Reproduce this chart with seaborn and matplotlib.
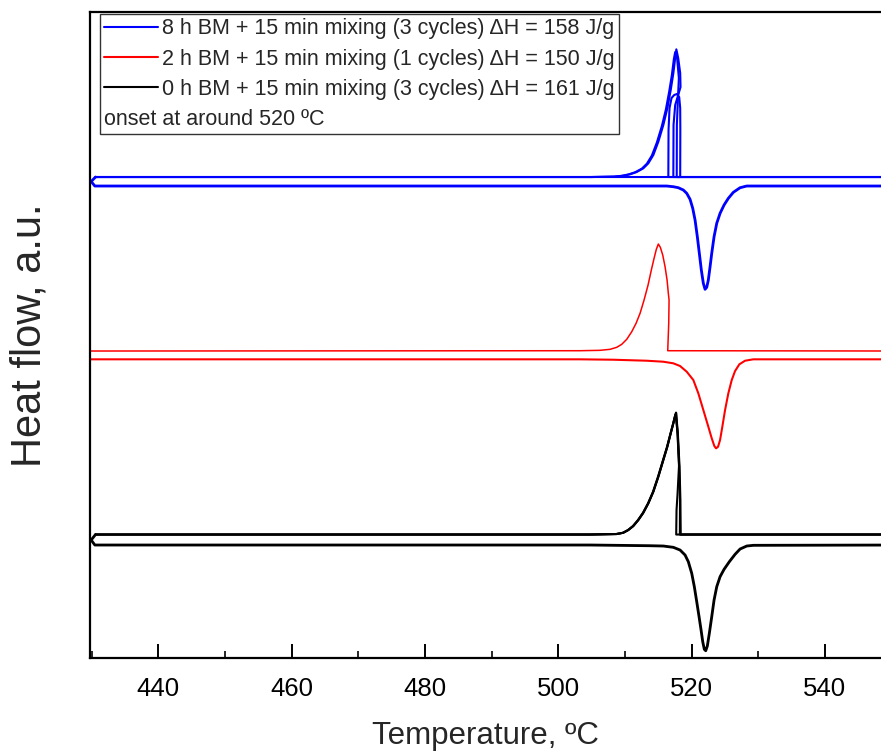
import matplotlib
matplotlib.use("Agg")
import matplotlib.pyplot as plt
import pandas as pd
import seaborn as sns
from matplotlib.lines import Line2D
from matplotlib.ticker import MultipleLocator

sns.set_theme(style="white")
plt.rcParams["font.family"] = ["Liberation Sans", "DejaVu Sans"]

# ---------------------------------------------------------------------------
# DSC traces: temperature (ºC) and heat flow (a.u., relative to baseline)
# ---------------------------------------------------------------------------
labels = [
    "8 h BM + 15 min mixing (3 cycles) \u0394H = 158 J/g",
    "2 h BM + 15 min mixing (1 cycles) \u0394H = 150 J/g",
    "0 h BM + 15 min mixing (3 cycles) \u0394H = 161 J/g",
]
note = "onset at around 520 \u00baC"
colors = ["#0000ff", "#ff0000", "#000000"]

# baselines of the cooling (upper) and heating (lower) traces of each sample
base_cool = [48.1, 30.7, 12.35]
base_heat = [47.2, 29.87, 11.3]

# --- 8 h BM ---------------------------------------------------------------
# solidification: recalescence rise followed by the exothermic tail
bm8_riseA_T = [552, 517.27, 517.3, 517.55, 518.0, 518.35, 518.3, 518.0]
bm8_riseA_hf = [0, 0, 5.2, 7.2, 8.2, 9.0, 10.4, 11.9]
bm8_tailA_T = [517.72, 517.57, 517.27, 516.88, 516.37, 515.77, 515.02, 514.27,
               513.52, 512.77, 511.78, 510.78, 509.77, 508.5, 505, 430.6]
bm8_tailA_hf = [12.77, 12.03, 10.37, 8.7, 6.87, 5.2, 3.53, 2.2, 1.37, 0.87,
                0.5, 0.27, 0.13, 0.04, 0, 0]
bm8_riseB_T = [552, 517.78, 517.8, 517.95, 518.1, 517.85]
bm8_riseB_hf = [0, 0, 5.2, 7.7, 9.9, 11.8]
bm8_tailB_T = [517.55, 517.35, 517.05, 516.65, 516.15, 515.55, 514.8, 514.05,
               513.3, 512.55, 511.55, 510.55, 509.55, 508.3, 505, 430.6]
bm8_tailB_hf = [12.5, 11.8, 10.2, 8.55, 6.75, 5.1, 3.45, 2.15, 1.33, 0.84,
                0.48, 0.26, 0.12, 0.04, 0, 0]
bm8_capC_T = [552, 516.52, 516.55, 516.7, 517.0, 517.4, 517.8, 518.15, 518.3,
              518.32, 518.3, 430.6]
bm8_capC_hf = [0, 0, 4.7, 6.9, 7.9, 8.2, 8.3, 8.0, 6.9, 4.7, 0, 0]
bm8_cool_T = [bm8_riseA_T + bm8_tailA_T, bm8_riseB_T + bm8_tailB_T, bm8_capC_T]
bm8_cool_hf = [bm8_riseA_hf + bm8_tailA_hf, bm8_riseB_hf + bm8_tailB_hf,
               bm8_capC_hf]
# melting (the first three points close the loop at the start of the run)
bm8_heat_T = [430.6, 429.95, 430.5, 505, 516.28, 517.27, 518.02, 518.77,
              519.28, 519.78, 520.18, 520.53, 520.87, 521.17, 521.47, 521.77,
              522.03, 522.28, 522.52, 522.78, 523.03, 523.38, 523.78, 524.28,
              524.88, 525.52, 526.27, 527.28, 528.28, 552]
bm8_heat_hf = [0.9, 0.45, 0, 0, 0, -0.07, -0.17, -0.4, -0.73, -1.33, -2.23,
               -3.4, -5.07, -6.73, -8.4, -9.73, -10.33, -10.13, -9.4, -8.07,
               -6.73, -5.07, -3.73, -2.73, -1.9, -1.23, -0.63, -0.17, 0, 0]

# --- 2 h BM ---------------------------------------------------------------
bm2_cool_T = [[552, 516.43, 516.58, 516.63, 516.52, 516.33, 516.03, 515.68,
               515.32, 515.02, 514.72, 514.38, 513.97, 513.48, 512.88, 512.28,
               511.68, 511.03, 510.28, 509.53, 508.78, 507.78, 506.28, 503.28,
               429.5]]
bm2_cool_hf = [[0, 0.03, 2.77, 5.1, 5.77, 7.1, 8.43, 9.6, 10.37, 10.7, 10.17,
                9.27, 8.1, 6.6, 5.1, 3.77, 2.77, 1.93, 1.17, 0.67, 0.37, 0.17,
                0.07, 0.03, 0]]
bm2_heat_T = [429.5, 503.28, 508.27, 513.28, 515.77, 517.27, 518.28, 519.28,
              520.27, 521.02, 521.77, 522.52, 523.03, 523.42, 523.68, 523.98,
              524.28, 524.62, 525.03, 525.52, 526.03, 526.53, 527.17, 528.03,
              529.27, 552]
bm2_heat_hf = [0, 0, -0.04, -0.14, -0.24, -0.4, -0.67, -1.24, -2.07, -3.4,
               -5.07, -6.74, -7.9, -8.67, -8.9, -8.74, -8.07, -6.74, -5.07,
               -3.4, -2.07, -1.17, -0.5, -0.14, 0, 0]

# --- 0 h BM ---------------------------------------------------------------
bm0_rise1_T = [552, 518.38, 518.33, 518.2, 517.95]
bm0_rise1_hf = [0, 0, 3.45, 6.78, 10.12]
bm0_rise2_T = [552, 517.7, 517.75, 517.9, 518.12, 517.9]
bm0_rise2_hf = [0, 0, 2.45, 4.05, 6.85, 10.05]
bm0_rise3_T = [552, 518.25, 518.27, 518.15, 517.92]
bm0_rise3_hf = [0, 0, 3.45, 6.75, 10.05]
bm0_tail1_T = [517.68, 517.57, 517.27, 516.88, 516.37, 515.77, 515.02, 514.27,
               513.52, 512.77, 512.02, 511.27, 510.52, 509.77, 508.78, 504.78,
               430.6]
bm0_tail1_hf = [12.18, 11.95, 11.12, 10.12, 8.78, 7.45, 5.78, 4.28, 3.12, 2.18,
                1.45, 0.85, 0.45, 0.18, 0.05, 0, 0]
bm0_tail2_T = [517.62, 517.5, 517.2, 516.8, 516.29, 515.69, 514.94, 514.19,
               513.44, 512.69, 511.94, 511.19, 510.44, 509.69, 508.7, 504.7,
               430.6]
bm0_tail2_hf = [12.0, 11.8, 11.0, 10.0, 8.7, 7.38, 5.72, 4.23, 3.08, 2.15,
                1.43, 0.84, 0.44, 0.17, 0.05, 0, 0]
bm0_cool_T = [bm0_rise1_T + bm0_tail1_T, bm0_rise2_T + bm0_tail1_T,
              bm0_rise3_T + bm0_tail2_T]
bm0_cool_hf = [bm0_rise1_hf + bm0_tail1_hf, bm0_rise2_hf + bm0_tail1_hf,
               bm0_rise3_hf + bm0_tail2_hf]
bm0_heat_T = [430.6, 429.95, 430.5, 504.78, 513.78, 515.77, 517.27, 518.28,
              519.03, 519.52, 520.03, 520.42, 520.78, 521.13, 521.43, 521.68,
              521.92, 522.13, 522.37, 522.67, 523.03, 523.38, 523.78, 524.28,
              524.88, 525.67, 526.53, 527.28, 528.28, 529.27, 552]
bm0_heat_hf = [1.05, 0.5, 0, 0, -0.07, -0.1, -0.23, -0.5, -1.0, -1.67, -2.83,
               -4.17, -5.67, -7.17, -8.5, -9.67, -10.43, -10.57, -10.1, -8.83,
               -7.17, -5.5, -4.17, -3.17, -2.43, -1.67, -0.93, -0.4, -0.1,
               -0.03, 0]

samples = [
    (bm8_cool_T, bm8_cool_hf, bm8_heat_T, bm8_heat_hf),
    (bm2_cool_T, bm2_cool_hf, bm2_heat_T, bm2_heat_hf),
    (bm0_cool_T, bm0_cool_hf, bm0_heat_T, bm0_heat_hf),
]
widths = [1.5, 1.1, 1.5]

# ---------------------------------------------------------------------------
fig = plt.figure(figsize=(8.81, 7.51), dpi=100)
ax = fig.add_axes([0.1016, 0.1238, 0.9255, 0.8602])

for i, (cT, cH, hT, hH) in enumerate(samples):
    for T, hf in zip(cT, cH):
        df = pd.DataFrame({"T": T, "hf": [base_cool[i] + v for v in hf]})
        sns.lineplot(data=df, x="T", y="hf", sort=False, estimator=None,
                     color=colors[i], lw=widths[i], ax=ax)
    df = pd.DataFrame({"T": hT, "hf": [base_heat[i] + v for v in hH]})
    sns.lineplot(data=df, x="T", y="hf", sort=False, estimator=None,
                 color=colors[i], lw=widths[i] * 1.35, ax=ax)

ax.set_xlim(429.7, 552)
ax.set_ylim(0, 64.6)
ax.set_yticks([])
ax.xaxis.set_major_locator(MultipleLocator(20))
ax.xaxis.set_minor_locator(MultipleLocator(10))
ax.tick_params(axis="x", which="major", direction="in", length=10, width=1.4,
               labelsize=18.5, pad=14, colors="black", bottom=True)
ax.tick_params(axis="x", which="minor", direction="in", length=5, width=1.4,
               bottom=True)
for sp in ax.spines.values():
    sp.set_color("black")
    sp.set_linewidth(1.6)

ax.set_xlabel("Temperature, \u00baC", fontsize=22.5)
ax.xaxis.set_label_coords(0.485, -0.097)
ax.set_ylabel("Heat flow, a.u.", fontsize=30)
ax.yaxis.set_label_coords(-0.049, 0.5)

handles = [Line2D([], [], color=c, lw=1.5) for c in colors]
handles.append(Line2D([], [], lw=0))
leg = ax.legend(handles, labels + [note], loc="upper left",
                bbox_to_anchor=(0.013, 0.997), borderaxespad=0, fontsize=15.5,
                frameon=True, fancybox=False, edgecolor="#333333",
                framealpha=1, handlelength=2.5, handletextpad=0.19,
                borderpad=0.2, labelspacing=0.43)
leg.get_frame().set_linewidth(1.0)
# the note line carries no line sample: drop its empty handle box
note_row = leg._legend_handle_box.get_children()[0].get_children()[-1]
note_row.get_children().pop(0)

fig.savefig("out.png", dpi=100)
